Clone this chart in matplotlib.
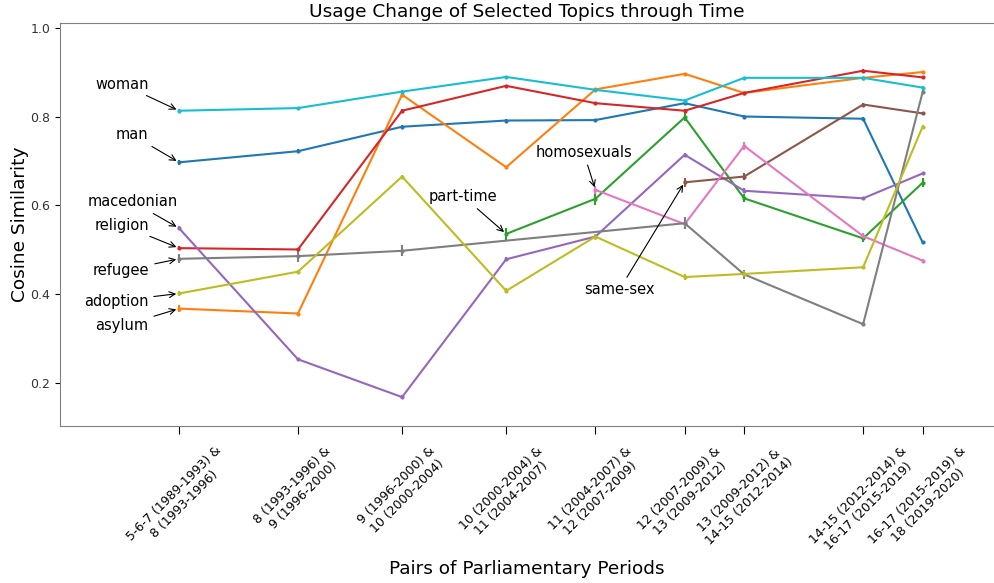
import matplotlib
matplotlib.use("Agg")
import matplotlib.pyplot as plt

# x positions of the period pairs (uneven spacing as in the original)
x_pos = [0, 1, 1.875, 2.75, 3.5, 4.25, 4.75, 5.75, 6.25]
pair_labels = [
    "5-6-7 (1989-1993) &\n8 (1993-1996)",
    "8 (1993-1996) &\n9 (1996-2000)",
    "9 (1996-2000) &\n10 (2000-2004)",
    "10 (2000-2004) &\n11 (2004-2007)",
    "11 (2004-2007) &\n12 (2007-2009)",
    "12 (2007-2009) &\n13 (2009-2012)",
    "13 (2009-2012) &\n14-15 (2012-2014)",
    "14-15 (2012-2014) &\n16-17 (2015-2019)",
    "16-17 (2015-2019) &\n18 (2019-2020)",
]

man = [0.697, 0.722, 0.777, 0.791, 0.792, 0.830, 0.800, 0.795, 0.517]
man_err = [0.006, 0.004, 0.003, 0.003, 0.003, 0.003, 0.003, 0.003, 0.004]

asylum = [0.368, 0.357, 0.849, 0.686, 0.861, 0.896, 0.853, 0.887, 0.900]
asylum_err = [0.008, 0.004, 0.003, 0.003, 0.003, 0.003, 0.003, 0.003, 0.003]

parttime_x = [2.75, 3.5, 4.25, 4.75, 5.75, 6.25]
parttime = [0.536, 0.615, 0.798, 0.616, 0.526, 0.651]
parttime_err = [0.014, 0.015, 0.009, 0.009, 0.009, 0.010]

religion = [0.504, 0.501, 0.813, 0.869, 0.830, 0.813, 0.853, 0.903, 0.888]
religion_err = [0.004, 0.004, 0.003, 0.003, 0.003, 0.003, 0.003, 0.003, 0.003]

macedonian = [0.549, 0.254, 0.169, 0.479, 0.530, 0.714, 0.633, 0.616, 0.672]
macedonian_err = [0.004, 0.004, 0.004, 0.005, 0.004, 0.004, 0.006, 0.003, 0.004]

samesex_x = [4.25, 4.75, 5.75, 6.25]
samesex = [0.652, 0.665, 0.827, 0.807]
samesex_err = [0.010, 0.008, 0.003, 0.003]

homosexuals_x = [3.5, 4.25, 4.75, 5.75, 6.25]
homosexuals = [0.635, 0.558, 0.734, 0.531, 0.476]
homosexuals_err = [0.009, 0.010, 0.009, 0.008, 0.004]

refugee_x = [0, 1, 1.875, 4.25, 4.75, 5.75, 6.25]
refugee = [0.480, 0.486, 0.498, 0.560, 0.445, 0.333, 0.855]
refugee_err = [0.010, 0.014, 0.012, 0.014, 0.010, 0.004, 0.004]

adoption = [0.402, 0.451, 0.665, 0.408, 0.530, 0.439, 0.446, 0.461, 0.777]
adoption_err = [0.006, 0.004, 0.003, 0.006, 0.006, 0.006, 0.006, 0.003, 0.004]

woman = [0.813, 0.819, 0.856, 0.889, 0.860, 0.836, 0.887, 0.887, 0.865]
woman_err = [0.003, 0.003, 0.003, 0.003, 0.003, 0.003, 0.003, 0.003, 0.003]

series = [
    (x_pos, man, man_err, "tab:blue"),
    (x_pos, asylum, asylum_err, "tab:orange"),
    (parttime_x, parttime, parttime_err, "tab:green"),
    (x_pos, religion, religion_err, "tab:red"),
    (x_pos, macedonian, macedonian_err, "tab:purple"),
    (samesex_x, samesex, samesex_err, "tab:brown"),
    (homosexuals_x, homosexuals, homosexuals_err, "tab:pink"),
    (refugee_x, refugee, refugee_err, "tab:gray"),
    (x_pos, adoption, adoption_err, "tab:olive"),
    (x_pos, woman, woman_err, "tab:cyan"),
]

# label text, text position, arrow target
notes = [
    ("woman", (-0.48, 0.873), (0, woman[0])),
    ("man", (-0.395, 0.759), (0, man[0])),
    ("macedonian", (-0.387, 0.608), (0, macedonian[0])),
    ("religion", (-0.479, 0.556), (0, religion[0])),
    ("refugee", (-0.487, 0.453), (0, refugee[0])),
    ("adoption", (-0.529, 0.385), (0, adoption[0])),
    ("asylum", (-0.479, 0.329), (0, asylum[0])),
    ("part-time", (2.39, 0.620), (2.75, parttime[0])),
    ("homosexuals", (3.40, 0.720), (3.5, homosexuals[0])),
    ("same-sex", (3.70, 0.410), (4.25, samesex[0])),
]

fig = plt.figure(figsize=(9.94, 5.83), dpi=100)
ax = fig.add_axes([60 / 994, 157 / 583, 934 / 994, 403.3 / 583])

for xs, ys, err, col in series:
    ax.errorbar(xs, ys, yerr=err, fmt=".-", color=col, lw=1.5,
                markersize=4, elinewidth=1.5)

for txt, xy_text, xy in notes:
    ax.annotate(txt, xy=xy, xytext=xy_text, fontsize=10.5, ha="center", va="center",
                arrowprops=dict(arrowstyle="->", color="black", lw=0.8))

ax.set_xlim(-1.0, 6.85)
ax.set_ylim(0.104, 1.011)
ax.set_xticks(x_pos)
ax.set_xticklabels(pair_labels, rotation=45, fontsize=9)
ax.set_yticks([0.2, 0.4, 0.6, 0.8, 1.0])
ax.tick_params(axis="y", labelsize=9, length=3.5, labelcolor="#333333")
ax.tick_params(axis="x", length=6, pad=7)
ax.spines["right"].set_visible(False)
for s in ["left", "top", "bottom"]:
    ax.spines[s].set_color("gray")

ax.set_title("Usage Change of Selected Topics through Time", fontsize=13.3, pad=4)
ax.set_ylabel("Cosine Similarity", fontsize=13.3, labelpad=1)
ax.set_xlabel("Pairs of Parliamentary Periods", fontsize=13.3)
ax.xaxis.set_label_coords(0.5, -0.332)

fig.savefig("out.png", dpi=100)
